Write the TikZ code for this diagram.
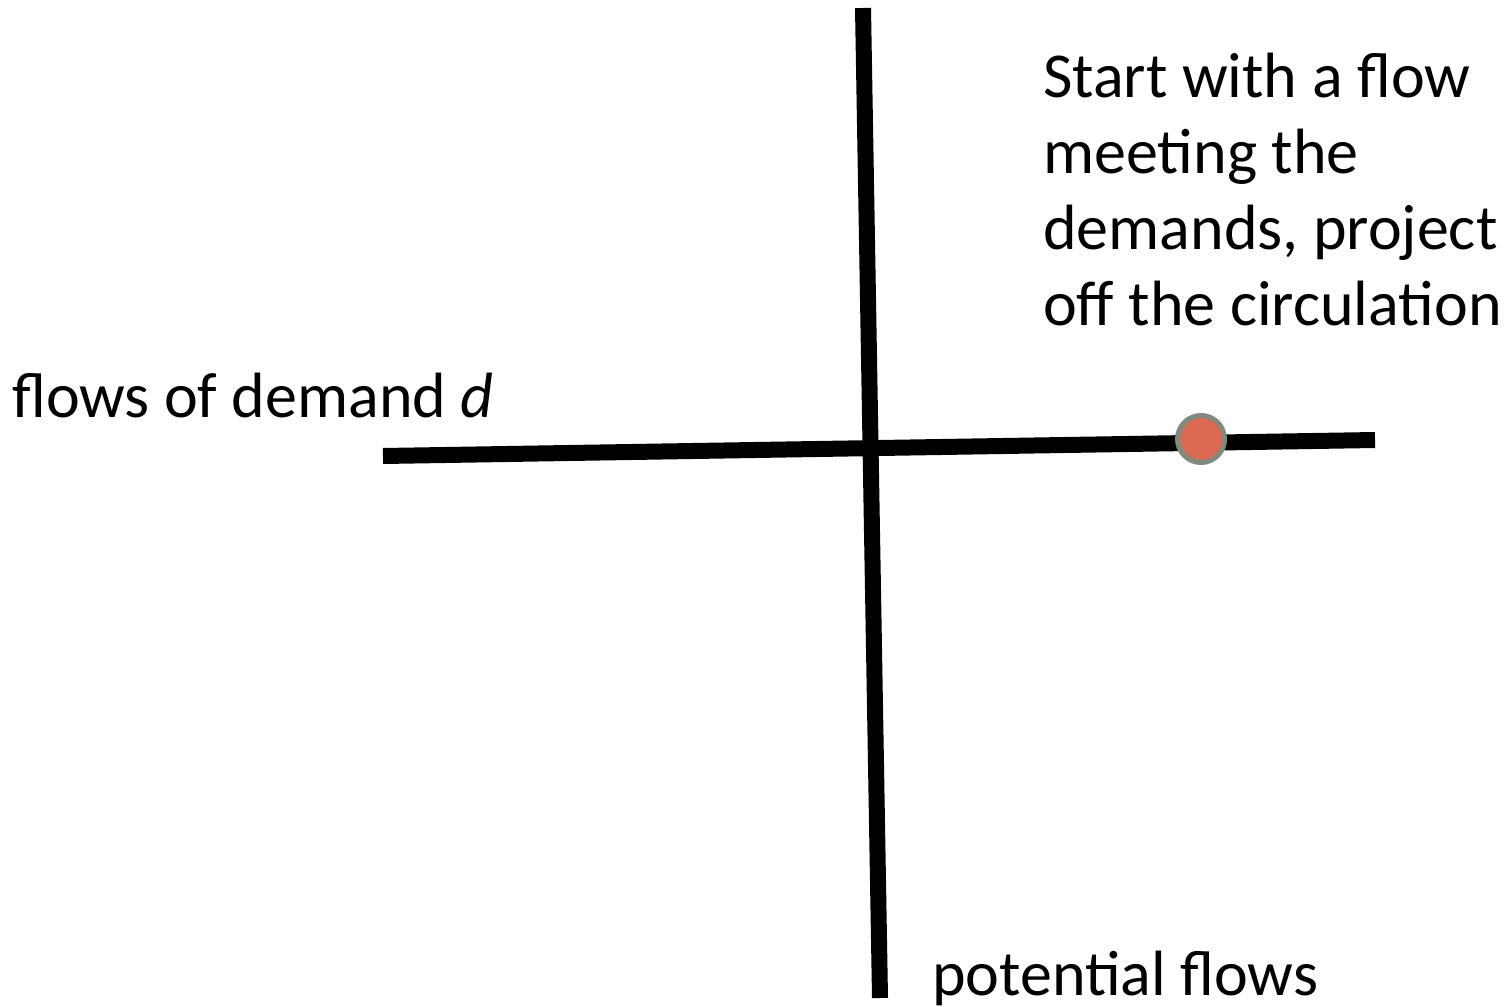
\documentclass[tikz,border=0pt]{standalone}
\usepackage{fontspec}
\setmainfont{Carlito}
\tikzset{
  axis/.style={line width=16pt, black},
  flowdot/.style={circle, fill=dotfill, draw=dotring, line width=5pt, minimum size=47pt, inner sep=0pt},
  caption/.style={inner sep=0pt, font=\fontsize{64}{75.7}\selectfont, align=left}
}
\definecolor{dotfill}{RGB}{218,106,82}
\definecolor{dotring}{RGB}{128,138,126}
\begin{document}
\begin{tikzpicture}[x=1pt, y=-1pt]
  \useasboundingbox[fill=white] (0,0) rectangle (1506,1006);
  % axes
  \coordinate (vtop) at (863,8);
  \coordinate (vbot) at (880,998);
  \coordinate (hleft) at (383,456);
  \coordinate (hright) at (1375,440);
  \draw[axis] (vtop) -- (vbot);
  \draw[axis] (hleft) -- (hright);
  % starting flow
  \node[flowdot] (start) at (1201,439) {};
  % labels (base anchor of a multi-line node sits on its last line)
  \node[caption, anchor=base west] (note) at (1043,325)
    {Start with a flow\\meeting the\\demands, project\\off the circulation};
  \node[caption, anchor=base west] (demand) at (12,417) {flows of demand \textit{d}};
  \node[caption, anchor=base west] (potential) at (932,995) {potential flows};
\end{tikzpicture}
\end{document}
